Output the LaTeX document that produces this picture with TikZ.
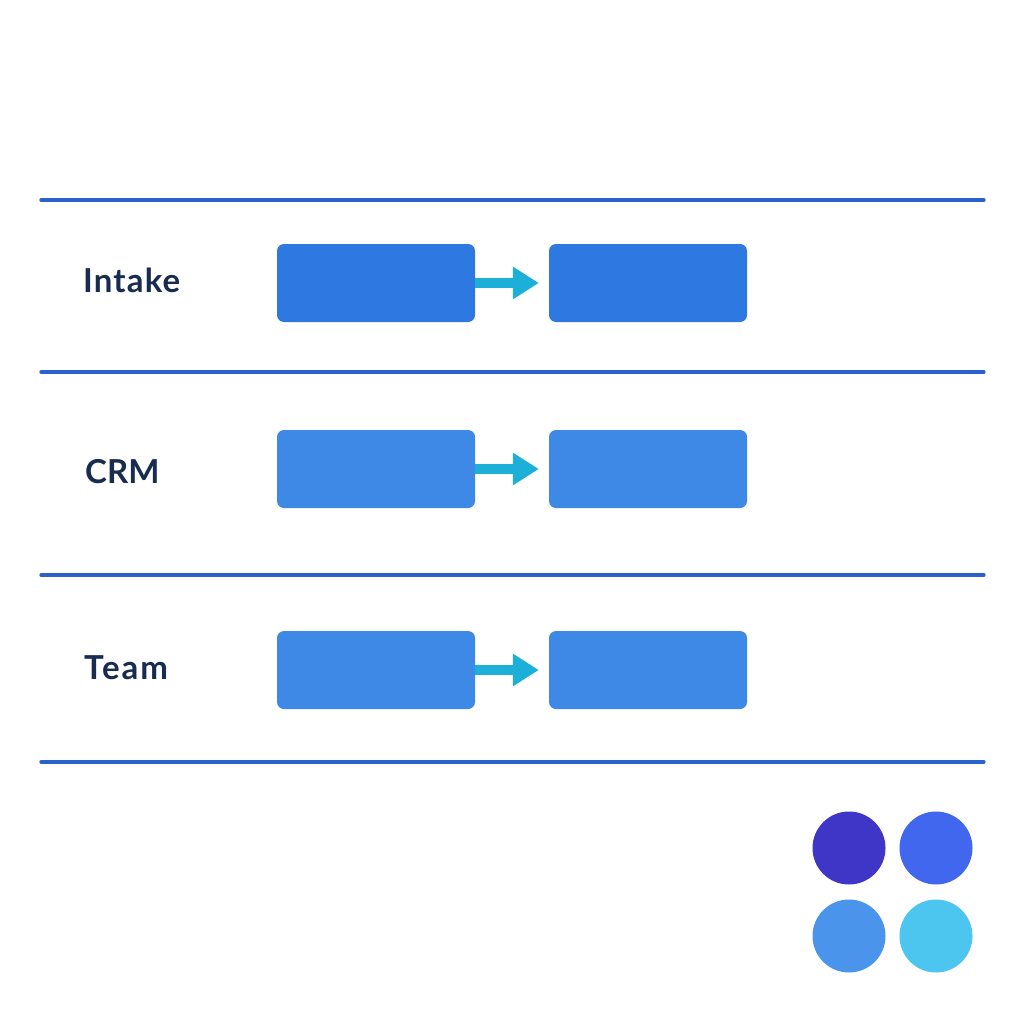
\documentclass[tikz,border=0pt]{standalone}
\usepackage{fontspec}
\setmainfont{Lato}
\usetikzlibrary{arrows.meta}
\definecolor{rulecol}{HTML}{2A62CC}
\definecolor{boxa}{HTML}{2E78E2}
\definecolor{boxb}{HTML}{3E88E6}
\definecolor{arrowcol}{HTML}{1CB0D8}
\definecolor{labelcol}{HTML}{182C50}
\definecolor{dota}{HTML}{3F36C8}
\definecolor{dotb}{HTML}{4067EE}
\definecolor{dotc}{HTML}{4A94EC}
\definecolor{dotd}{HTML}{4CC6EE}
\tikzset{
  x=1pt,y=-1pt,
  flowbox/.style={rectangle,rounded corners=7pt,minimum width=198pt,minimum height=78pt,inner sep=0pt,draw=none},
  flowarrow/.style={draw=arrowcol,line width=9.5pt,-{Triangle[length=26pt,width=31pt,fill=arrowcol]},shorten >=10pt},
  rulerline/.style={draw=rulecol,line width=3.3pt,line cap=round},
  lanelabel/.style={text=labelcol,font=\fontsize{33}{38}\selectfont\bfseries,inner sep=0pt,anchor=base west},
  dot/.style={circle,minimum size=73pt,inner sep=0pt,draw=none}
}
\begin{document}
\begin{tikzpicture}
\useasboundingbox (0,0) rectangle (1024,1024);
\fill[white] (0,0) rectangle (1024,1024);
\foreach \n/\y in {a/200,b/372,c/575,d/762}{
  \coordinate (l\n) at (41,\y);
  \coordinate (r\n) at (984,\y);
  \draw[rulerline] (l\n) -- (r\n);
}
\node[lanelabel] (lab1) at (83,292) {\addfontfeatures{LetterSpace=3.5}Intake};
\node[lanelabel] (lab2) at (85,483) {CRM};
\node[lanelabel] (lab3) at (84,679) {\addfontfeatures{LetterSpace=6}Team};
\node[flowbox,fill=boxa] (a1) at (376,283) {};
\node[flowbox,fill=boxa] (a2) at (648,283) {};
\node[flowbox,fill=boxb] (b1) at (376,469) {};
\node[flowbox,fill=boxb] (b2) at (648,469) {};
\node[flowbox,fill=boxb] (c1) at (376,670) {};
\node[flowbox,fill=boxb] (c2) at (648,670) {};
\draw[flowarrow] (a1) -- (a2);
\draw[flowarrow] (b1) -- (b2);
\draw[flowarrow] (c1) -- (c2);
\node[dot,fill=dota] (d1) at (849,848) {};
\node[dot,fill=dotb] (d2) at (936,848) {};
\node[dot,fill=dotc] (d3) at (849,936) {};
\node[dot,fill=dotd] (d4) at (936,936) {};
\end{tikzpicture}
\end{document}
